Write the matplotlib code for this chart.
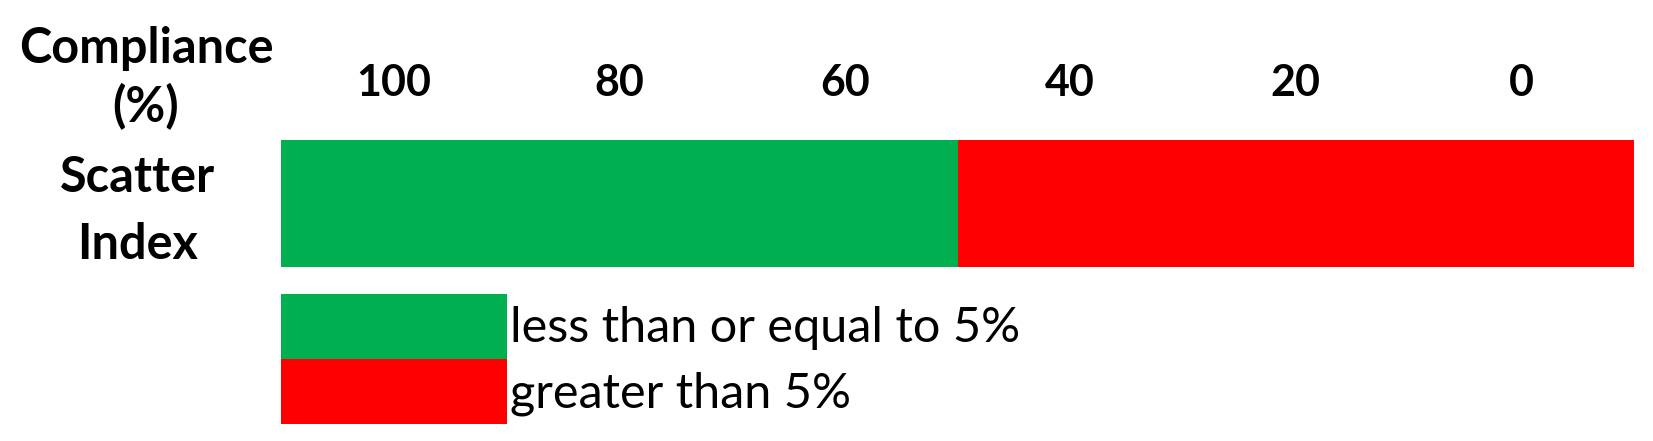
import matplotlib
matplotlib.use("Agg")
import matplotlib.pyplot as plt
from matplotlib.patches import Patch
from matplotlib.transforms import ScaledTranslation

# --- Data ---
categories = ["Scatter\nIndex"]
seg_labels = ["less than or equal to 5%", "greater than 5%"]
seg_start = [110, 50]   # compliance (%) where each segment begins
seg_end = [50, -10]     # compliance (%) where each segment ends
seg_colors = ["#00B050", "#FF0000"]
tick_values = [100, 80, 60, 40, 20, 0]
x_range = (110, -10)    # reversed axis

plt.rcParams["font.family"] = ["Lato", "DejaVu Sans"]

W, H = 1653, 441
fig = plt.figure(figsize=(W / 100, H / 100), dpi=100)
ax = fig.add_axes([281 / W, 1 - 267 / H, (1634 - 281) / W, (267 - 140) / H])

for start, end, color in zip(seg_start, seg_end, seg_colors):
    ax.barh(categories, [end - start], left=[start], height=1.0, color=color)

ax.set_xlim(*x_range)
ax.set_ylim(-0.5, 0.5)
ax.xaxis.tick_top()
ax.set_xticks(tick_values)
ax.set_xticklabels([str(v) for v in tick_values], fontsize=31, fontweight="bold")
ax.tick_params(axis="x", length=0, pad=27)
ax.tick_params(axis="y", length=0, pad=103, labelsize=35)
lift = ScaledTranslation(0, 8 / 100, fig.dpi_scale_trans)
for lbl in ax.get_yticklabels():
    lbl.set_fontweight("bold")
    lbl.set_horizontalalignment("center")
    lbl.set_multialignment("center")
    lbl.set_linespacing(1.6)
    lbl.set_transform(lbl.get_transform() + lift)
for s in ax.spines.values():
    s.set_visible(False)

fig.text(146 / W, 1 - 78 / H, "Compliance\n(%)", ha="center", va="center",
         fontsize=35, fontweight="bold", linespacing=1.32)

# --- Legend ---
handles = [Patch(facecolor=c, edgecolor="none") for c in seg_colors]
fs = 35
fs_px = fs / 0.72
row_px = 65
fig.legend(handles, seg_labels, loc="upper left",
           bbox_to_anchor=(281 / W, 1 - 294 / H), bbox_transform=fig.transFigure,
           frameon=False, fontsize=fs, borderpad=0, borderaxespad=0,
           labelspacing=0, handlelength=226 / fs_px,
           handleheight=(row_px / fs_px - 0.245) / 0.65, handletextpad=0.06)

fig.savefig("out.png", dpi=100, facecolor="white")
